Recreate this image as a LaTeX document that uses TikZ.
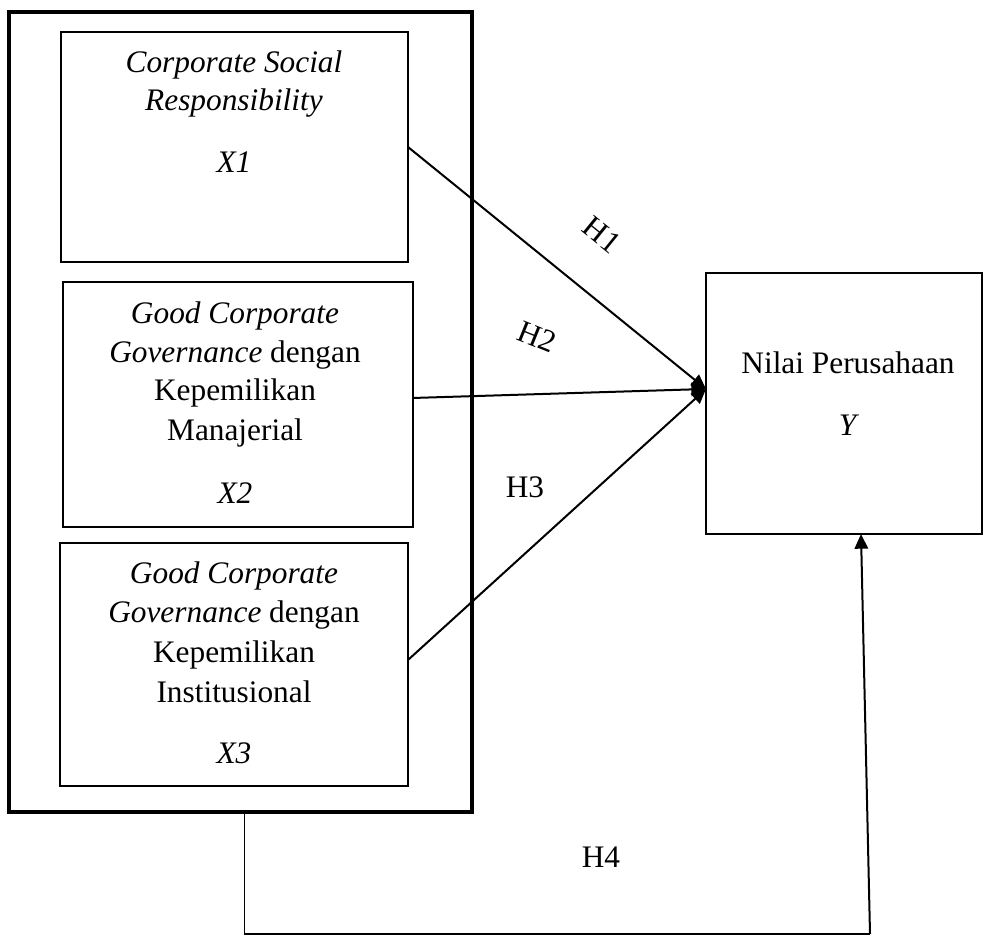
\documentclass[tikz,border=0pt]{standalone}
\usepackage{fontspec}
\setmainfont{Liberation Serif}
\usetikzlibrary{arrows.meta}
\begin{document}
\begin{tikzpicture}[x=0.75pt,y=-0.75pt,
  every node/.style={inner sep=0pt, outer sep=0pt},
  box/.style={draw, line width=1.6pt},
  txt/.style={font=\fontsize{23.5}{28}\selectfont, anchor=base},
  hlab/.style={font=\fontsize{23.5}{28}\selectfont, anchor=center},
  arr/.style={line width=1.5pt, -{Triangle[length=11pt,width=10pt]}},
]
\useasboundingbox (0,0) rectangle (984,935);
% boxes
\node[draw, line width=3pt, minimum width=463*0.75pt, minimum height=800*0.75pt] (outer) at (240.5,412) {};
\node[box, minimum width=347*0.75pt, minimum height=230*0.75pt] (X1) at (234.5,147) {};
\node[box, minimum width=350*0.75pt, minimum height=245*0.75pt] (X2) at (238,404.5) {};
\node[box, minimum width=348*0.75pt, minimum height=243*0.75pt] (X3) at (234,664.5) {};
\node[box, minimum width=276*0.75pt, minimum height=261*0.75pt] (Y) at (844,403.5) {};
% texts X1
\node[txt] (x1a) at (234,72) {\textit{Corporate Social}};
\node[txt] (x1b) at (234,110) {\textit{Responsibility}};
\node[txt] (x1c) at (234,172) {\textit{X1}};
% texts X2
\node[txt] (x2a) at (235,323) {\textit{Good Corporate}};
\node[txt] (x2b) at (235,362) {\textit{Governance} dengan};
\node[txt] (x2c) at (235,400) {Kepemilikan};
\node[txt] (x2d) at (235,440) {Manajerial};
\node[txt] (x2e) at (235,503) {\textit{X2}};
% texts X3
\node[txt] (x3a) at (234,583) {\textit{Good Corporate}};
\node[txt] (x3b) at (234,622) {\textit{Governance} dengan};
\node[txt] (x3c) at (234,662) {Kepemilikan};
\node[txt] (x3d) at (234,702) {Institusional};
\node[txt] (x3e) at (234,763) {\textit{X3}};
% texts Y
\node[txt] (ya) at (848,373) {Nilai Perusahaan};
\node[txt] (yb) at (849,435) {\textit{Y}};
% connectors
\draw[arr] (X1.east) -- ([yshift=10.9pt]Y.west);
\draw[arr] ([yshift=4.9pt]X2.east) -- ([yshift=10.9pt]Y.west);
\draw[arr] ([yshift=3.4pt]X3.east) -- ([yshift=10.9pt]Y.west);
\coordinate (corner) at (870,934);
\draw[line width=0.8pt] ([xshift=3pt]outer.south) |- (corner);
\draw[arr] (corner) -- ([xshift=12.75pt]Y.south);
% labels
\node[hlab, rotate=-39] (h1) at (602,235) {H1};
\node[hlab, rotate=-22] (h2) at (537,337) {H2};
\node[hlab] (h3) at (525,487) {H3};
\node[hlab] (h4) at (601,857) {H4};
\end{tikzpicture}
\end{document}
